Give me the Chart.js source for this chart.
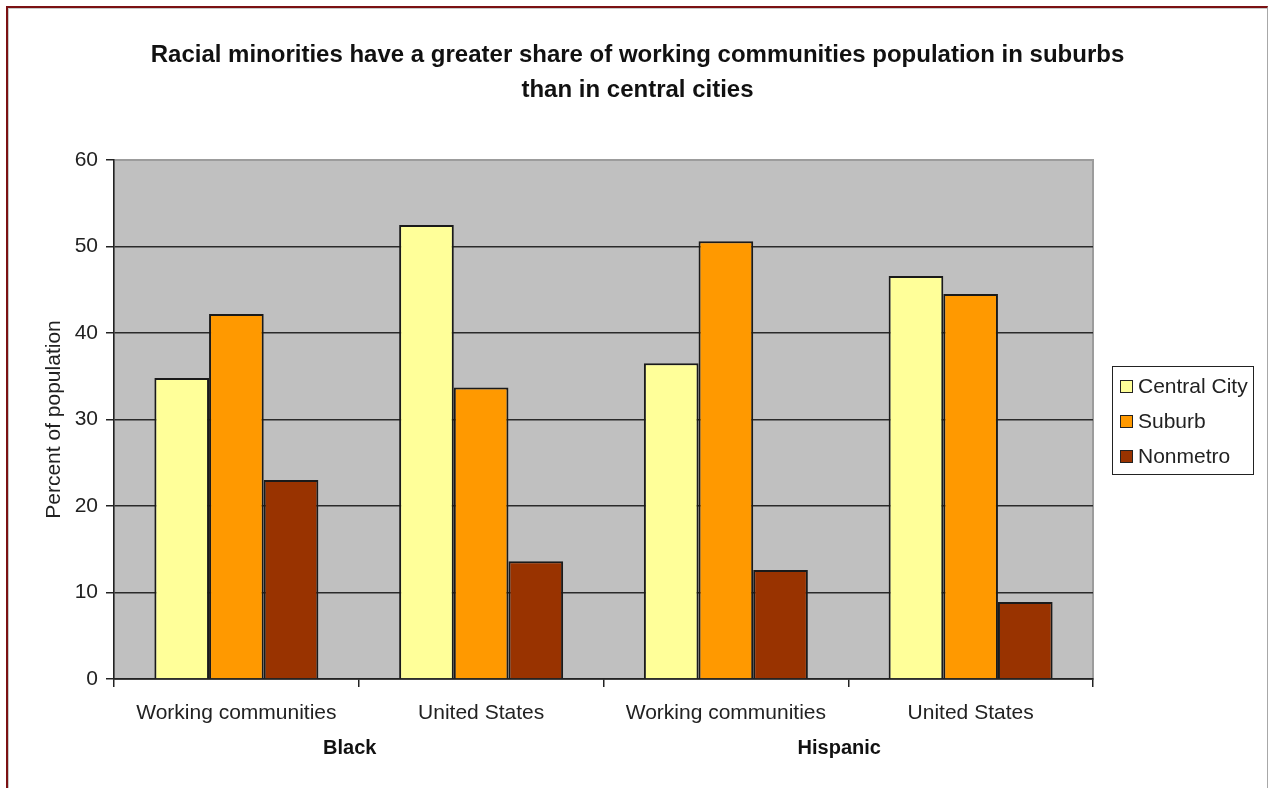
<!DOCTYPE html>
<html>
<head>
<meta charset="utf-8">
<title>Racial minorities - working communities</title>
<script src="https://cdn.jsdelivr.net/npm/chart.js@4/dist/chart.umd.min.js"></script>
<style>
  html, body { margin: 0; padding: 0; background: #fff; }
  body { width: 1269px; height: 788px; position: relative; overflow: hidden; font-family: 'Liberation Sans', Arial, sans-serif; }
  #frame {
    position: absolute; left: 6px; top: 6px; width: 1259px; height: 800px;
    border-top: 2px solid #7b1113; border-left: 2px solid #7b1113; border-right: 1px solid #a8a8a8;
    box-shadow: inset 1px 1px 0 #c8c8c8;
  }
  #title {
    position: absolute; left: 9px; width: 1257px; top: 36px;
    text-align: center; font-weight: bold; font-size: 24px; line-height: 35px; color: #111;
  }
  #chart { position: absolute; left: 0; top: 0; }
</style>
</head>
<body>
<div id="frame"></div>
<canvas id="chart" width="1269" height="788"></canvas>
<div id="title">Racial minorities have a greater share of working communities population in suburbs<br>than in central cities</div>
<script>
// Categories and groups
const categories = ['Working communities', 'United States', 'Working communities', 'United States'];
const groups = ['Black', 'Hispanic'];

// Percent of population by area type
const centralCity = [34.8, 52.5, 36.5, 46.6];
const suburb = [42.2, 33.7, 50.6, 44.5];
const nonmetro = [23.0, 13.6, 12.6, 8.9];

const yTicks = [0, 10, 20, 30, 40, 50, 60];

const FONT = "'Liberation Sans', Arial, sans-serif";

// Gray plot area with a light border
const plotBackground = {
    id: 'plotBackground',
    beforeDraw(chart) {
        const { ctx, chartArea: a } = chart;
        ctx.save();
        ctx.fillStyle = '#c0c0c0';
        ctx.fillRect(a.left, a.top, a.width, a.height);
        ctx.strokeStyle = '#9c9c9c';
        ctx.lineWidth = 2;
        ctx.strokeRect(a.left, a.top, a.width, a.height);
        ctx.restore();
    }
};

// Second row of x labels: one per group of two categories
const groupLabels = {
    id: 'groupLabels',
    afterDraw(chart) {
        const { ctx } = chart;
        const x = chart.scales.x;
        ctx.save();
        ctx.font = 'bold 20px ' + FONT;
        ctx.fillStyle = '#111';
        ctx.textAlign = 'center';
        ctx.textBaseline = 'middle';
        groups.forEach((g, i) => {
            const mid = (x.getPixelForValue(i * 2) + x.getPixelForValue(i * 2 + 1)) / 2;
            ctx.fillText(g, mid - 9, 748);
        });
        ctx.restore();
    }
};

// Legend in a bordered box to the right of the plot
const boxedLegend = {
    id: 'boxedLegend',
    afterDraw(chart) {
        const { ctx, chartArea: a } = chart;
        const boxW = 141, boxH = 108, rowH = 35;
        const left = a.right + 19;
        const top = Math.round((a.top + a.bottom) / 2 - boxH / 2);
        ctx.save();
        ctx.fillStyle = '#fff';
        ctx.fillRect(left, top, boxW, boxH);
        ctx.strokeStyle = '#222';
        ctx.lineWidth = 1;
        ctx.strokeRect(left + 0.5, top + 0.5, boxW, boxH);
        ctx.font = '21px ' + FONT;
        ctx.textBaseline = 'middle';
        chart.data.datasets.forEach((ds, i) => {
            const cy = top + 20.5 + i * rowH;
            ctx.fillStyle = ds.backgroundColor;
            ctx.fillRect(left + 8, cy - 6.5, 13, 13);
            ctx.strokeStyle = '#222';
            ctx.strokeRect(left + 8.5, cy - 6, 12, 12);
            ctx.fillStyle = '#222';
            ctx.fillText(ds.label, left + 26, cy + 1);
        });
        ctx.restore();
    }
};

const barStyle = { borderColor: '#1a1a1a', borderWidth: 2, borderSkipped: 'bottom' };

new Chart(document.getElementById('chart'), {
    type: 'bar',
    data: {
        labels: categories,
        datasets: [
            { label: 'Central City', data: centralCity, backgroundColor: '#ffff99', ...barStyle },
            { label: 'Suburb', data: suburb, backgroundColor: '#ff9900', ...barStyle },
            { label: 'Nonmetro', data: nonmetro, backgroundColor: '#993300', ...barStyle }
        ]
    },
    options: {
        responsive: false,
        animation: false,
        layout: { padding: { left: 6, top: 160, right: 176, bottom: 19 } },
        datasets: { bar: { categoryPercentage: 0.67, barPercentage: 1 } },
        plugins: {
            legend: { display: false },
            title: { display: false },
            tooltip: { enabled: false }
        },
        scales: {
            x: {
                grid: { drawOnChartArea: false, drawTicks: true, tickLength: 8, tickColor: '#222', lineWidth: 1.5 },
                border: { color: '#222', width: 1.5 },
                ticks: { color: '#222', font: { family: FONT, size: 21 }, padding: 14, maxRotation: 0, autoSkip: false },
                afterFit(scale) { scale.height = 90; }
            },
            y: {
                min: 0,
                max: 60,
                afterBuildTicks(scale) { scale.ticks = yTicks.map(v => ({ value: v })); },
                grid: {
                    color: ctx => (ctx.tick && ctx.tick.value === 60) ? 'rgba(0,0,0,0)' : '#2a2a2a',
                    lineWidth: 1.5,
                    tickLength: 8,
                    tickColor: '#222'
                },
                border: { color: '#222', width: 1.5 },
                ticks: { color: '#222', font: { family: FONT, size: 21 }, padding: 8 },
                title: {
                    display: true,
                    text: 'Percent of population',
                    color: '#222',
                    font: { family: FONT, size: 21 },
                    padding: { top: 36, bottom: 0 }
                },
                afterFit(scale) { scale.width = 108; }
            }
        }
    },
    plugins: [plotBackground, groupLabels, boxedLegend]
});
</script>
</body>
</html>
